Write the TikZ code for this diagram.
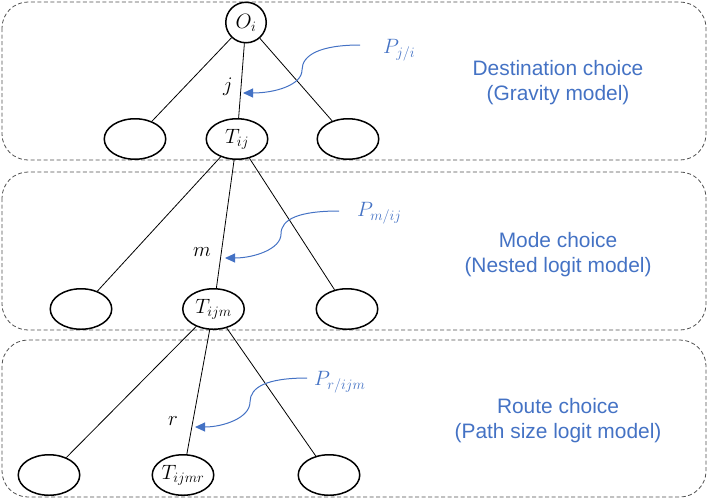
\documentclass[tikz,border=0pt]{standalone}
\usepackage{fontspec}
\setmainfont{Liberation Sans}
\usetikzlibrary{arrows.meta,shapes.geometric,calc}
\definecolor{ablue}{HTML}{4472C4}
\definecolor{boxgray}{HTML}{505050}
\tikzset{
  layerbox/.style={draw=boxgray, dash pattern=on 4pt off 2.5pt, rounded corners=26pt, line width=0.8pt},
  ell/.style={ellipse, draw, line width=1.5pt, minimum width=61.5pt, minimum height=40.5pt, inner sep=0pt, font=\fontsize{21}{25}\selectfont},
  circ/.style={circle, draw, line width=1.5pt, minimum size=40.5pt, inner sep=0pt, font=\fontsize{21}{25}\selectfont},
  edge/.style={line width=0.8pt},
  lbl/.style={inner sep=0pt, font=\fontsize{21}{25}\selectfont},
  plabel/.style={text=ablue, anchor=west, inner sep=0pt, font=\fontsize{20}{24}\selectfont},
  parrow/.style={draw=ablue, line width=1pt, -{Triangle[length=10pt,width=9pt]}},
  desc/.style={text=ablue, anchor=base, inner sep=0pt, font=\fontsize{20.9}{25}\selectfont},
}
\begin{document}
\begin{tikzpicture}[x=1pt,y=-1pt]
\useasboundingbox (0,0) rectangle (708,499);
% layer boxes
\draw[layerbox] (2,2) rectangle (706,160);
\draw[layerbox] (2,172) rectangle (706,330);
\draw[layerbox] (2,340) rectangle (706,497);

% level 1
\node[circ] (Oi) at (246,22.5) {$O_i$};
\node[ell] (L1) at (135,139) {};
\node[ell] (Tij) at (237,139) {$T_{ij}$};
\node[ell] (R1) at (348,139) {};
% level 2
\node[ell] (L2) at (81,309) {};
\node[ell] (Tijm) at (213.5,309) {$T_{ijm}$};
\node[ell] (R2) at (347,309) {};
% level 3
\node[ell] (L3) at (49,475) {};
\node[ell] (Tijmr) at (183,475) {$T_{ijmr}$};
\node[ell] (R3) at (329,475) {};

% edges
\draw[edge] (Oi) -- (L1);
\draw[edge] (Oi) -- (Tij);
\draw[edge] (Oi) -- (R1);
\draw[edge] (Tij) -- (L2);
\draw[edge] (Tij) -- (Tijm);
\draw[edge] (Tij) -- (R2);
\draw[edge] (Tijm) -- (L3);
\draw[edge] (Tijm) -- (Tijmr);
\draw[edge] (Tijm) -- (R3);

% branch labels
\node[lbl] (lj) at (228,87) {$j$};
\node[lbl] (lm) at (202,252) {$m$};
\node[lbl] (lr) at (173,421) {$r$};

% probability labels and arrows
\node[plabel] (Pj) at (383,50) {$P_{j/i}$};
\node[plabel] (Pm) at (357,213) {$P_{m/ij}$};
\node[plabel] (Pr) at (314,382) {$P_{r/ijm}$};

\coordinate (sj) at (360,45);
\coordinate (tj) at (243,93);
\coordinate (sm) at (339,211);
\coordinate (tm) at (225,258);
\coordinate (sr) at (307,378);
\coordinate (tr) at (195,427);

\draw[parrow] (sj) .. controls ($(sj)+(-40,0)$) and ($(sj)+(-58,10)$) .. ($(sj)+(-58,25)$)
  .. controls ($(sj)+(-58,40)$) and ($(sj)+(-85,48)$) .. (tj);
\draw[parrow] (sm) .. controls ($(sm)+(-40,0)$) and ($(sm)+(-58,8)$) .. ($(sm)+(-58,23)$)
  .. controls ($(sm)+(-58,38)$) and ($(sm)+(-85,47)$) .. (tm);
\draw[parrow] (sr) .. controls ($(sr)+(-40,0)$) and ($(sr)+(-57,9)$) .. ($(sr)+(-57,24)$)
  .. controls ($(sr)+(-57,40)$) and ($(sr)+(-84,49)$) .. (tr);

% descriptions
\node[desc] (d1a) at (558,75) {Destination choice};
\node[desc] (d1b) at (558,100) {(Gravity model)};
\node[desc] (d2a) at (558,247) {Mode choice};
\node[desc] (d2b) at (558,272) {(Nested logit model)};
\node[desc] (d3a) at (558,413) {Route choice};
\node[desc] (d3b) at (558,438) {(Path size logit model)};
\end{tikzpicture}
\end{document}
